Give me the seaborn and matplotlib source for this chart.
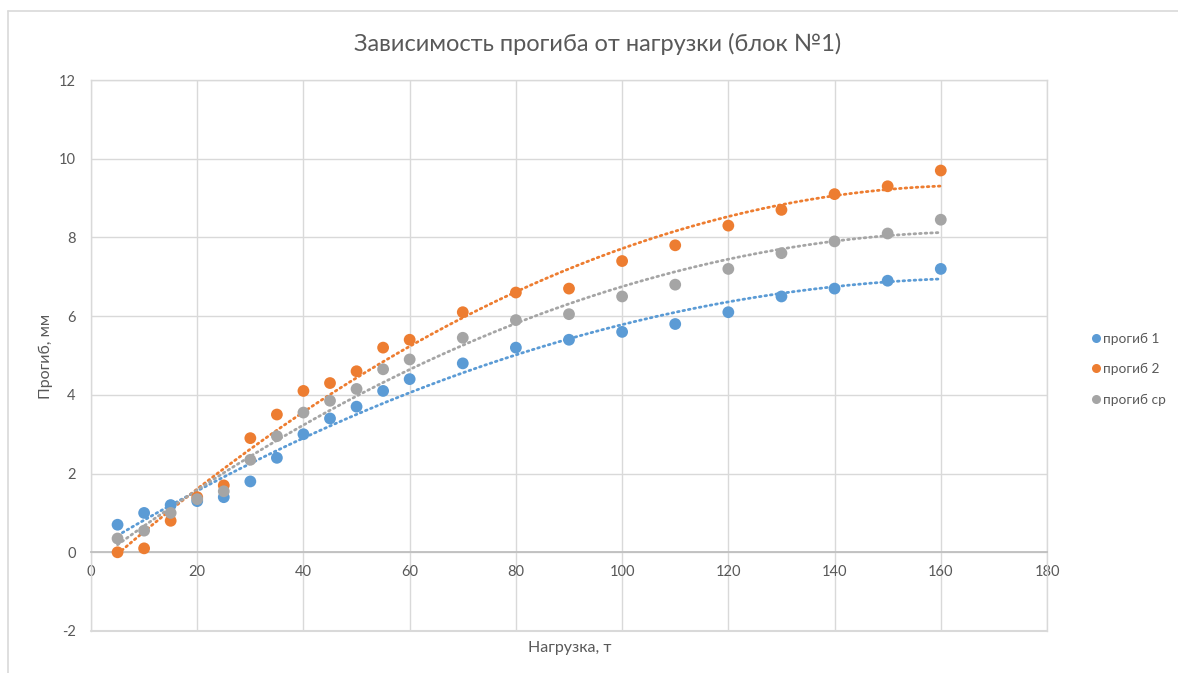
import numpy as np
import pandas as pd
import matplotlib
matplotlib.use("Agg")
import matplotlib.pyplot as plt
from matplotlib.lines import Line2D
import seaborn as sns

# Load (t) and measured deflection (mm)
load = [5, 10, 15, 20, 25, 30, 35, 40, 45, 50, 55, 60, 70, 80, 90, 100, 110, 120, 130, 140, 150, 160]
defl_1 = [0.7, 1.0, 1.2, 1.3, 1.4, 1.8, 2.4, 3.0, 3.4, 3.7, 4.1, 4.4, 4.8, 5.2, 5.4, 5.6, 5.8, 6.1, 6.5, 6.7, 6.9, 7.2]
defl_2 = [0.0, 0.1, 0.8, 1.4, 1.7, 2.9, 3.5, 4.1, 4.3, 4.6, 5.2, 5.4, 6.1, 6.6, 6.7, 7.4, 7.8, 8.3, 8.7, 9.1, 9.3, 9.7]
defl_avg = [0.35, 0.55, 1.0, 1.35, 1.55, 2.35, 2.95, 3.55, 3.85, 4.15, 4.65, 4.9, 5.45, 5.9, 6.05, 6.5, 6.8, 7.2, 7.6, 7.9, 8.1, 8.45]

series_names = ["прогиб 1", "прогиб 2", "прогиб ср"]
series_values = [defl_1, defl_2, defl_avg]
series_colors = ["#5b9bd5", "#ed7d31", "#a5a5a5"]

x_ticks = [0, 20, 40, 60, 80, 100, 120, 140, 160, 180]
y_ticks = [-2, 0, 2, 4, 6, 8, 10, 12]

title = "Зависимость прогиба от нагрузки (блок №1)"
x_label = "Нагрузка, т"
y_label = "Прогиб, мм"

df = pd.concat(
    [pd.DataFrame({"load": load, "defl": vals, "series": name})
     for name, vals in zip(series_names, series_values)],
    ignore_index=True,
)

sns.set_theme(style="white")
plt.rcParams["font.family"] = ["Lato", "DejaVu Sans"]
plt.rcParams["axes.unicode_minus"] = False
text_color = "#595959"
grid_color = "#d9d9d9"

fig = plt.figure(figsize=(11.78, 6.73), dpi=100)
ax = fig.add_axes([91 / 1178, 1 - 631 / 673, (1047 - 91) / 1178, (631 - 80) / 673])

# Polynomial (order 2) trend lines, dotted
xs = np.linspace(min(load), max(load), 300)
for vals, color in zip(series_values, series_colors):
    coef = np.polyfit(load, vals, 2)
    ax.plot(xs, np.polyval(coef, xs), linestyle=(0, (0.6, 1.4)), color=color,
            linewidth=2.0, dash_capstyle="round", zorder=2)

sns.scatterplot(data=df, x="load", y="defl", hue="series", palette=series_colors,
                hue_order=series_names, s=72, edgecolor="none", ax=ax, zorder=3,
                legend=False)

ax.set_xlim(0, 180)
ax.set_ylim(-2, 12)
ax.set_xticks(x_ticks)
ax.set_yticks(y_ticks)
ax.grid(True, color=grid_color, linewidth=1.0)
ax.set_axisbelow(True)

for side in ["top", "right", "left"]:
    ax.spines[side].set_color(grid_color)
    ax.spines[side].set_linewidth(1.0)
ax.spines["bottom"].set_position(("data", 0))
ax.spines["bottom"].set_color("#bfbfbf")
ax.spines["bottom"].set_linewidth(1.3)
ax.axhline(-2, color=grid_color, linewidth=1.5, clip_on=False)

ax.tick_params(axis="x", length=0, pad=9, labelsize=10.5, labelcolor=text_color)
ax.tick_params(axis="y", length=0, pad=11, labelsize=10.5, labelcolor=text_color)

ax.set_xlabel("")
ax.set_ylabel("")
fig.text(570 / 1178, 1 - 648 / 673, x_label, ha="center", va="center",
         fontsize=11.5, color=text_color)
fig.text(46 / 1178, 1 - 356 / 673, y_label, ha="center", va="center",
         rotation=90, fontsize=11.5, color=text_color)
fig.text(598 / 1178, 1 - 44 / 673, title, ha="center", va="center",
         fontsize=17, color=text_color)

handles = [Line2D([], [], marker="o", linestyle="none", markersize=6.5,
                  markerfacecolor=c, markeredgecolor="none") for c in series_colors]
fig.legend(handles, series_names, loc="center left",
           bbox_to_anchor=(1076 / 1178, 1 - 369 / 673), frameon=False,
           fontsize=9.8, labelcolor=text_color, handletextpad=-0.1,
           labelspacing=1.35, handlelength=1.2)

# Outer chart border
fig.add_artist(Line2D([8 / 1178, 8 / 1178], [0, 1 - 11 / 673], color=grid_color,
                      linewidth=1.2, transform=fig.transFigure))
fig.add_artist(Line2D([8 / 1178, 1], [1 - 11 / 673, 1 - 11 / 673], color=grid_color,
                      linewidth=1.2, transform=fig.transFigure))

fig.savefig("out.png", dpi=100, facecolor="white")
